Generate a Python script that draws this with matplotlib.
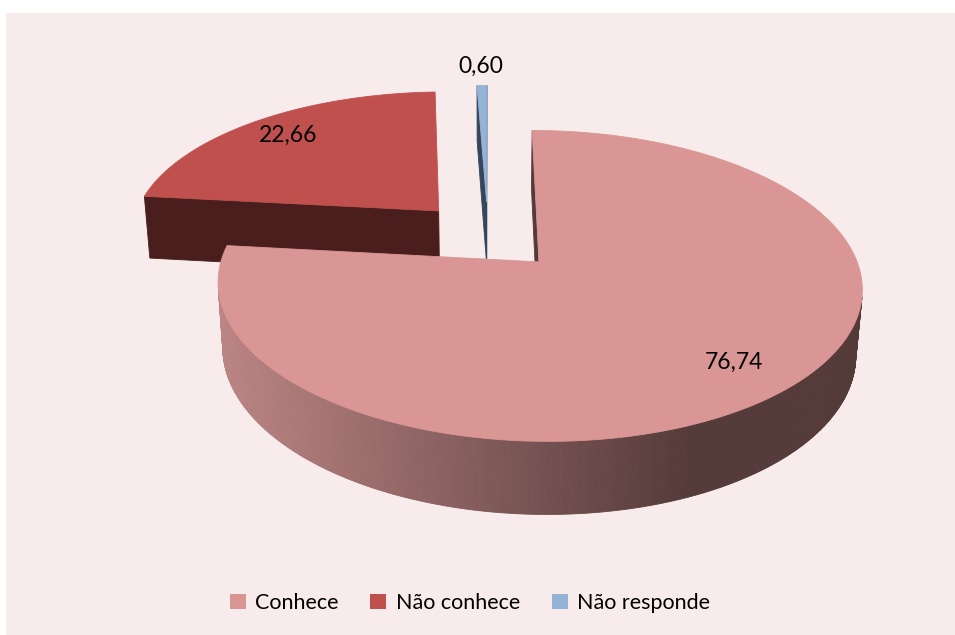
import numpy as np
import matplotlib
matplotlib.use("Agg")
import matplotlib.pyplot as plt
from matplotlib.patches import Polygon, Rectangle, Patch
from matplotlib.colors import LinearSegmentedColormap

# ---------------- data ----------------
categories = ["Conhece", "Não conhece", "Não responde"]
values = [76.74, 22.66, 0.60]
value_labels = ["76,74", "22,66", "0,60"]

# ---------------- style ----------------
top_colors = ["#d99694", "#c0504d", "#95b3d7"]
radial_colors = ["#553a3a", "#4a1e1d", "#34465c"]
wall_light = ["#bb8584", "#7a2f2d", "#5a7391"]
wall_dark = ["#553a3a", "#4a1e1d", "#2f3f55"]
label_radius = [0.81, 0.82, 1.19]
BG = "#f7ebeb"
FONT = ["Lato", "DejaVu Sans"]

W, H = 955, 635
fig = plt.figure(figsize=(W / 100, H / 100), dpi=100)
fig.patch.set_facecolor("white")
ax = fig.add_axes([0, 0, 1, 1])
ax.set_xlim(0, W)
ax.set_ylim(H, 0)
ax.axis("off")
ax.add_patch(Rectangle((6, 13), W + 20, H + 20, facecolor=BG, edgecolor="none",
                       zorder=0, clip_on=True))

# ---------------- 3D projection ----------------
elev = np.deg2rad(26.5)
D = 5.95
FX, FY = 1842, 1916
CX, CY = 488, 235.5
THICK = 0.225
EXPLODE = 0.24
sE, cE = np.sin(elev), np.cos(elev)
cam = np.array([0.0, -D * cE, D * sE])


def proj(P):
    P = np.atleast_2d(np.asarray(P, float))
    X, Y, Z = P[:, 0], P[:, 1], P[:, 2]
    v = Y * sE + Z * cE
    d = D + Y * cE - Z * sE
    return np.column_stack([CX + FX * X / d, CY - FY * v / d])


def facing(P, n):
    c = np.mean(P, axis=0)
    return np.dot(cam - c, n) > 0


def draw(P3, color, z):
    pts = proj(P3)
    ax.add_patch(Polygon(pts, closed=True, facecolor=color, edgecolor=color,
                         linewidth=0.6, zorder=z))


total = sum(values)
cum = np.concatenate([[0], np.cumsum(values)]) / total * 2 * np.pi

slices = []
for i in range(len(values)):
    t0, t1 = cum[i], cum[i + 1]
    mid = (t0 + t1) / 2
    off = EXPLODE * np.array([np.sin(mid), np.cos(mid), 0.0])
    slices.append((i, t0, t1, mid, off))

# draw far slices first
order = sorted(slices, key=lambda s: -s[4][1])
zbase = 1
for (i, t0, t1, mid, off) in order:
    n = max(3, int(np.degrees(t1 - t0) * 2))
    th = np.linspace(t0, t1, n)
    rim = np.column_stack([np.sin(th), np.cos(th), np.zeros_like(th)]) + off
    down = np.array([0, 0, -THICK])
    apex = off.copy()

    # radial faces
    for t, nrm in ((t0, np.array([-np.cos(t0), np.sin(t0), 0])),
                   (t1, np.array([np.cos(t1), -np.sin(t1), 0]))):
        r = np.array([np.sin(t), np.cos(t), 0]) + off
        quad = np.array([apex, r, r + down, apex + down])
        if facing(quad, nrm):
            draw(quad, radial_colors[i], zbase)

    # outer wall with horizontal gradient
    cmap = LinearSegmentedColormap.from_list(
        "w%d" % i, [(0, wall_light[i]), (0.73, wall_dark[i]), (1, wall_dark[i])])
    full = np.linspace(0, 2 * np.pi, 361)
    ring = proj(np.column_stack([np.sin(full), np.cos(full), np.zeros_like(full)]) + off)
    xmin, xmax = ring[:, 0].min(), ring[:, 0].max()
    for k in range(n - 1):
        a, b = rim[k], rim[k + 1]
        quad = np.array([a, b, b + down, a + down])
        tm = (th[k] + th[k + 1]) / 2
        nrm = np.array([np.sin(tm), np.cos(tm), 0])
        if facing(quad, nrm):
            sx = proj(quad)[:, 0].mean()
            p = np.clip((sx - xmin) / (xmax - xmin), 0, 1)
            draw(quad, cmap(p), zbase + 1)

    # top face
    top = np.vstack([apex, rim])
    draw(top, top_colors[i], zbase + 2)

    # value label
    lr = label_radius[i]
    lp = off + lr * np.array([np.sin(mid), np.cos(mid), 0])
    lx, ly = proj(lp)[0]
    ax.text(lx, ly, value_labels[i], ha="center", va="center", fontsize=16.5,
            family=FONT, color="black", zorder=50)
    zbase += 3

# ---------------- legend ----------------
handles = [Patch(facecolor=c, edgecolor="none") for c in top_colors]
leg = ax.legend(handles, categories, loc="center", bbox_to_anchor=(470 / W, 1 - 603 / H),
                ncol=3, frameon=False, handlelength=0.75, handleheight=0.75,
                handletextpad=0.45, columnspacing=1.45,
                prop={"family": FONT, "size": 15.5})

fig.savefig("out.png", dpi=100, facecolor=fig.get_facecolor())
